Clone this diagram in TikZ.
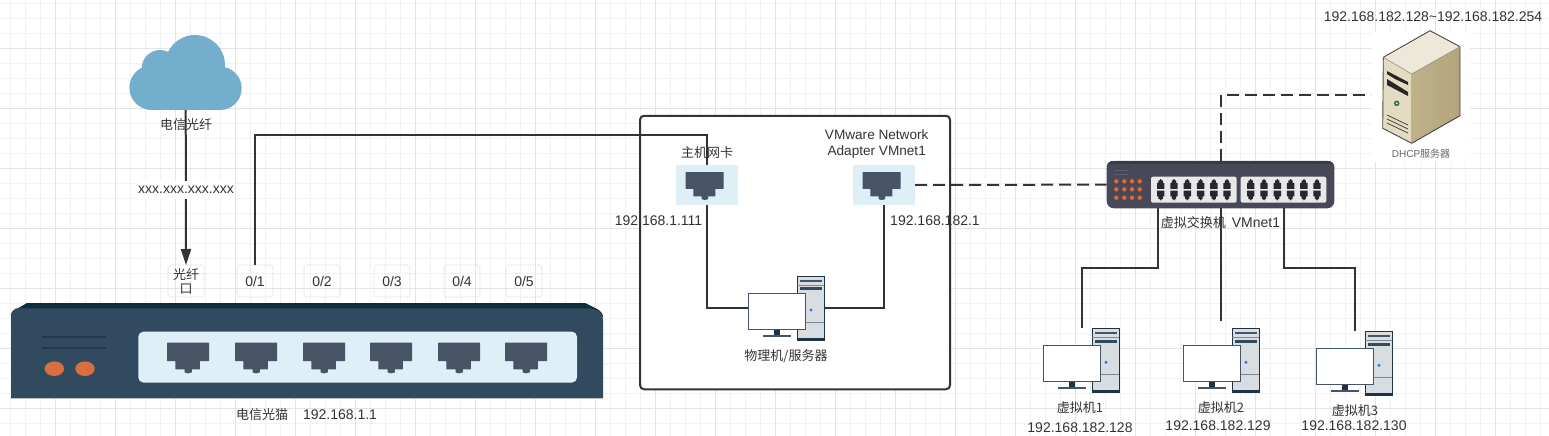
\documentclass[tikz,border=0pt]{standalone}
\usepackage{fontspec}
\setmainfont{Liberation Sans}
\newfontfamily\cjkfont{Noto Sans CJK SC}
\usetikzlibrary{arrows.meta}
\definecolor{ink}{HTML}{333333}
\definecolor{gridminor}{HTML}{F2F2F2}
\definecolor{gridmajor}{HTML}{E4E4E4}
\definecolor{modembody}{HTML}{324A5F}
\definecolor{modemtop}{HTML}{0F2D3A}
\definecolor{modemline}{HTML}{24384A}
\definecolor{ledorange}{HTML}{D96F3E}
\definecolor{panelblue}{HTML}{DFEFF8}
\definecolor{portdark}{HTML}{475466}
\definecolor{cloudblue}{HTML}{74AECD}
\definecolor{towerfill}{HTML}{D8DDE2}
\definecolor{towerdark}{HTML}{1F3346}
\definecolor{towerline}{HTML}{7C8894}
\definecolor{dotblue}{HTML}{2F6FE0}
\definecolor{switchbody}{HTML}{474858}
\definecolor{switchtop}{HTML}{3A3B4A}
\definecolor{switchmark}{HTML}{5E5F70}
\definecolor{switchport}{HTML}{26272F}
\definecolor{switchpanel}{HTML}{E8E8E8}
\definecolor{switchled}{HTML}{E8652B}
\definecolor{srvtop}{HTML}{EEE8D8}
\definecolor{srvfront}{HTML}{E4DBC3}
\definecolor{srvside}{HTML}{BFB18A}
\definecolor{srvlight}{HTML}{F1ECDD}
\definecolor{srvdark}{HTML}{B3A47B}
\definecolor{srvedge}{HTML}{4A483E}
\definecolor{srvgreen}{HTML}{1F6B4F}
\newcommand{\cj}[1]{{\cjkfont\fontsize{13}{16}\selectfont #1}}
\newcommand{\rjport}[5]{% x y w h colour
  \begin{scope}[shift={(#1,#2)},xscale=#3,yscale=#4]
    \fill[#5,rounded corners=0.3pt] (0,0) -- (1,0) -- (1,.6) -- (.78,.6) -- (.78,.87) -- (.59,.87) -- (.59,.97) -- (.5,1) -- (.42,.97) -- (.42,.87) -- (.2,.87) -- (.2,.6) -- (0,.6) -- cycle;
  \end{scope}}
\newcommand{\pcunit}[2]{%
  \begin{scope}[shift={(#1,#2)}]
    \fill[towerfill] (48.7,0) rectangle (76.4,64.7);
    \draw[towerdark,line width=1pt] (48.7,0.5) rectangle (76,64.2);
    \fill[towerdark] (48.7,62) rectangle (76.4,64.7);
    \fill[portdark] (51.7,4) rectangle (73.3,6);
    \draw[towerline,line width=.8pt] (49,9) -- (76,9);
    \fill[modembody] (51.7,11.3) rectangle (73.3,14.3);
    \fill[dotblue] (62.7,34) circle (1.6);
    \draw[towerline,line width=.8pt] (49,46.3) -- (76,46.3);
    \fill[towerdark] (25.7,53.3) rectangle (31.7,59);
    \fill[portdark] (15,59) rectangle (42.7,61);
    \draw[fill=white,draw=portdark,line width=1.1pt] (0,17.3) rectangle (57.3,53.3);
  \end{scope}}
\tikzset{
  anchorbox/.style={inner sep=0pt,outer sep=0pt,draw=none},
  cable/.style={draw=ink,line width=2pt},
  dashcable/.style={cable,dash pattern=on 12pt off 6pt},
  lbl/.style={text=ink,inner sep=0pt,outer sep=0pt,align=center,font=\fontsize{14}{16}\selectfont},
  portlabel/.style={lbl,draw=black!22,densely dotted,line width=.7pt,rounded corners=3pt,minimum width=36pt,minimum height=32pt},
  nicbox/.style={anchorbox,fill=panelblue,minimum width=62pt,minimum height=40pt},
  pcbox/.style={anchorbox,minimum width=76.4pt,minimum height=64.7pt}
}
\begin{document}
\begin{tikzpicture}[x=1pt,y=-1pt]
\useasboundingbox (0,0) rectangle (1549,436);
\fill[white] (0,0) rectangle (1549,436);
% grid
\foreach \g in {10.5,25.5,...,1545} \draw[gridminor,line width=1.2pt] (\g,0) -- (\g,436);
\foreach \g in {3.3,18.3,...,435} \draw[gridminor,line width=1.2pt] (0,\g) -- (1549,\g);
\foreach \g in {55.5,115.5,...,1545} \draw[gridmajor,line width=1.2pt] (\g,0) -- (\g,436);
\foreach \g in {48.3,108.3,...,435} \draw[gridmajor,line width=1.2pt] (0,\g) -- (1549,\g);
% host frame
\node[anchorbox,draw=ink,fill=white,line width=2pt,rounded corners=4pt,minimum width=310pt,minimum height=273.5pt] (host) at (795,252.5) {};
% cloud
\node[anchorbox,minimum width=113.4pt,minimum height=75pt] (cloud) at (185.7,72.5) {};
\fill[cloudblue] (151.7,87.7) circle (22.3);
\fill[cloudblue] (220,88.3) circle (21.7);
\fill[cloudblue] (195,65) circle (30);
\fill[cloudblue] (160,68.3) circle (18.3);
\fill[cloudblue] (151.7,85) rectangle (220,110);
\fill[cloudblue] (150,70) rectangle (222,100);
% modem
\node[anchorbox,minimum width=592pt,minimum height=96pt] (modem) at (307,351) {};
\fill[modemtop] (11,316) .. controls (11,312) and (13,311) .. (15,310) -- (27,303) -- (585,303) -- (597,309) .. controls (601,311) and (603,314) .. (603,317) -- cycle;
\fill[modembody] (11,316) .. controls (11,312) and (13,310) .. (16,308.3) -- (590,308.3) .. controls (600,310) and (603,314) .. (603,320) -- (603,398) -- (11,398) -- cycle;
\fill[black!25] (11,398) rectangle (603,399);
\draw[modemline,line width=2pt] (42,337.3) -- (105.7,337.3) (42,348) -- (105.7,348);
\fill[ledorange] (54.3,368.7) ellipse (9.7 and 7.3);
\fill[ledorange] (85,368.7) ellipse (9.7 and 7.3);
\fill[panelblue,rounded corners=5pt] (138.3,331.7) rectangle (577,382.5);
\foreach \px in {167,235,303,370,438,505} {\rjport{\px}{342.7}{42}{30.7}{portdark}}
% modem port labels
\node[portlabel] (fiber) at (186,281) {\cj{光纤}\\[-2pt]\cj{口}};
\node[portlabel] (pa) at (255,281) {0/1};
\node[portlabel] (pb) at (322,281) {0/2};
\node[portlabel] (pc) at (392,281) {0/3};
\node[portlabel] (pd) at (462,281) {0/4};
\node[portlabel] (pe) at (524,281) {0/5};
% adapters
\node[nicbox] (nic) at (707,185) {};
\node[nicbox] (vmnic) at (884,185) {};
\rjport{685.7}{172}{38}{28}{portdark}
\rjport{862.7}{172}{38}{28}{portdark}
% physical machine and virtual machines
\node[pcbox] (phys) at (786.5,308.4) {};
\pcunit{748.3}{276}
\node[pcbox] (vma) at (1081.5,360.6) {};
\pcunit{1043.3}{328.3}
\node[pcbox] (vmb) at (1221.5,360.6) {};
\pcunit{1183.3}{328.3}
\node[pcbox] (vmc) at (1354.5,363.6) {};
\pcunit{1316.3}{331.3}
% switch
\node[anchorbox,fill=switchbody,rounded corners=7pt,minimum width=227.6pt,minimum height=47.3pt] (switch) at (1220.5,184.6) {};
\fill[switchtop,rounded corners=6pt] (1106.7,172) -- (1106.7,161) -- (1334.3,161) -- (1334.3,172) -- cycle;
\fill[switchbody] (1106.7,164) rectangle (1334.3,172);
\draw[switchmark,line width=.8pt] (1114,170.7) -- (1128,170.7) (1114,174) -- (1128,174);
\foreach \lx in {1116.3,1124.3,1132,1139.7} \foreach \ly in {181.3,189.3,197.7} \fill[switchled] (\lx,\ly) circle (2.2);
\fill[switchpanel,rounded corners=2pt] (1151,176.7) rectangle (1236.7,202.7);
\fill[switchpanel,rounded corners=2pt] (1240.7,176.7) rectangle (1326.3,202.7);
\foreach \sx in {1157,1170.3,1183.6,1196.9,1210.2,1223.3,1247,1260.3,1273.6,1286.9,1300.2,1313.3} {
  \rjport{\sx}{188.8}{7.4}{-9.8}{switchport}
  \rjport{\sx}{190.6}{7.4}{9.8}{switchport}
}
% DHCP server
\node[anchorbox,fill=white,minimum width=98pt,minimum height=130pt] (dhcp) at (1421,97) {};
\fill[srvtop] (1430,30.7) -- (1460,46.7) -- (1411.7,74) -- (1383.3,57.3) -- cycle;
\fill[srvfront] (1383.3,57.3) -- (1411.7,74) -- (1411.7,143.3) -- (1382.7,128.3) -- cycle;
\shade[left color=srvside,middle color=srvlight,right color=srvdark] (1411.7,74) -- (1460,46.7) -- (1460,115.7) -- (1411.7,143.3) -- cycle;
\draw[srvedge,line width=.9pt,line join=round] (1430,30.7) -- (1460,46.7) -- (1460,115.7) -- (1411.7,143.3) -- (1382.7,128.3) -- (1383.3,57.3) -- cycle;
\draw[srvedge!60,line width=.6pt] (1383.3,57.3) -- (1411.7,74) -- (1460,46.7);
\fill[black!85] (1387,71) -- (1408,82) -- (1408,85) -- (1395,79) -- (1387,74) -- cycle;
\fill[black!85] (1387,79) -- (1408,92) -- (1408,96) -- (1387,85) -- cycle;
\draw[srvgreen,line width=1.4pt] (1396.7,103.3) circle (2);
\draw[srvedge,line width=.8pt] (1387,115) -- (1408,125) (1387,119) -- (1408,129) (1387,123) -- (1408,133);
\node[lbl,text=black!60,font=\fontsize{10}{12}\selectfont] (dhcplabel) at (1421,153.7) {DHCP{\cjkfont 服务器}};
% connectors
\coordinate (toprun) at (480,135);
\coordinate (dhcpend) at (1371,95);
\coordinate (swleft) at (1158.4,208.3);
\coordinate (swmid) at (1221,208.3);
\coordinate (swright) at (1283.7,208.3);
\coordinate (swtop) at (1221,161);
\coordinate (runleft) at (1120,268);
\coordinate (runright) at (1320,268);
\coordinate (vmbend) at (1221,321);
\draw[cable,-{Triangle[length=16pt,width=10pt]}] (cloud.south) -- (fiber.north);
\draw[cable] (pa.north) |- (toprun) -| (nic.north);
\draw[cable] (phys.west) -| (nic.south);
\draw[cable] (phys.east) -| (vmnic.south);
\draw[dashcable] (vmnic.east) -- (switch.west);
\draw[dashcable] (swtop) |- (dhcpend);
\draw[cable] (swleft) |- (runleft) -| (vma.north);
\draw[cable] (swmid) -- (vmbend);
\draw[cable] (swright) |- (runright) -| (vmc.north);
% labels
\node[lbl,fill=white,minimum width=97pt,minimum height=18pt] (fiberaddr) at (186,189.5) {xxx.xxx.xxx.xxx};
\node[lbl] (cloudlabel) at (186,125) {\cj{电信光纤}};
\node[lbl] (modemlabel) at (306.5,415) {\cj{电信光猫}\hspace{15pt}192.168.1.1};
\node[lbl] (niclabel) at (707,153) {\cj{主机网卡}};
\node[lbl,font=\fontsize{13.6}{16.2}\selectfont] (vmniclabel) at (876.7,144.2) {VMware Network\\Adapter VMnet1};
\node[lbl] (nicip) at (658.5,220.7) {192.168.1.111};
\node[lbl] (vmnicip) at (935,220.7) {192.168.182.1};
\node[lbl] (physlabel) at (786,356) {\cj{物理机/服务器}};
\node[lbl] (swlabel) at (1220.5,223) {\cj{虚拟交换机}\hspace{6pt}VMnet1};
\node[lbl] (vmalabel) at (1080,408) {\cj{虚拟机1}};
\node[lbl] (vmaip) at (1080,428) {192.168.182.128};
\node[lbl] (vmblabel) at (1221,408) {\cj{虚拟机2}};
\node[lbl] (vmbip) at (1218,426) {192.168.182.129};
\node[lbl] (vmclabel) at (1355,411) {\cj{虚拟机3}};
\node[lbl] (vmcip) at (1354,426) {192.168.182.130};
\node[lbl] (rangelabel) at (1433,17) {192.168.182.128\textasciitilde 192.168.182.254};
\end{tikzpicture}
\end{document}
